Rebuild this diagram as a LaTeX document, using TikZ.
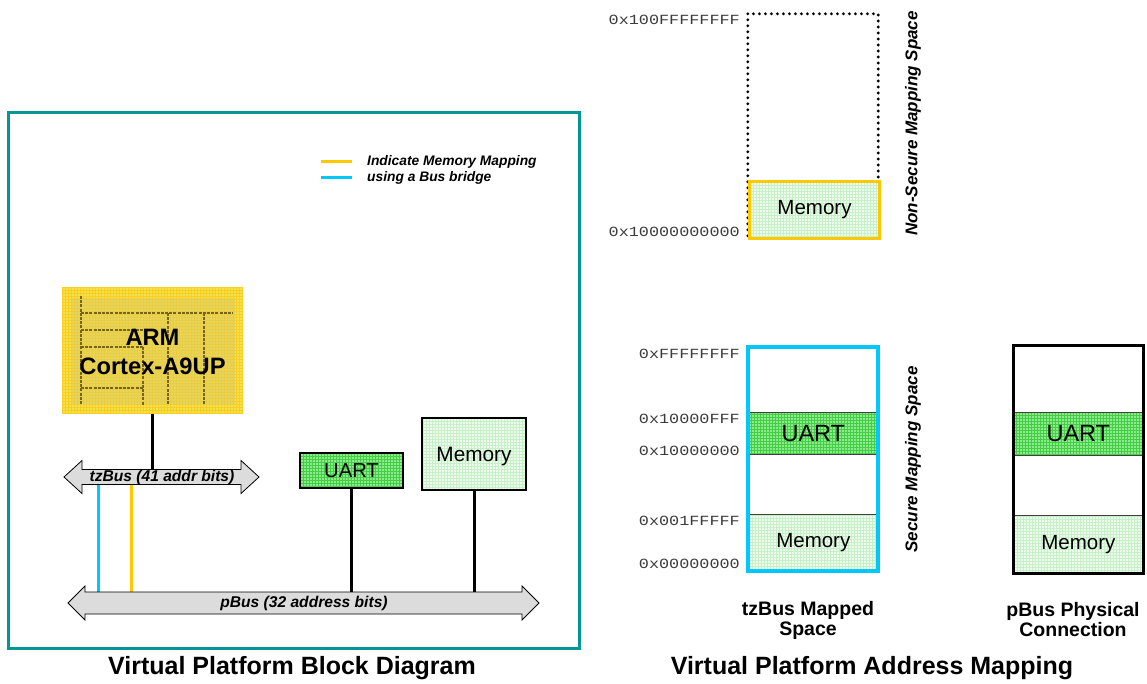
\documentclass[tikz,border=0pt]{standalone}
\usepackage{fontspec}
\usepackage{graphicx}
\setmainfont{Liberation Sans}
\newfontfamily\monof{Liberation Mono}
\usetikzlibrary{backgrounds,calc}
\definecolor{tealframe}{RGB}{0,150,150}
\definecolor{ylw}{RGB}{255,200,0}
\definecolor{cyn}{RGB}{0,200,250}
\definecolor{armfill}{RGB}{242,226,80}
\definecolor{armgrid}{RGB}{250,205,30}
\definecolor{arminner}{RGB}{222,205,95}
\definecolor{armdash}{RGB}{120,100,25}
\definecolor{grnfill}{RGB}{140,235,140}
\definecolor{grngrid}{RGB}{70,205,70}
\definecolor{lgfill}{RGB}{238,252,238}
\definecolor{lggrid}{RGB}{200,240,200}
\definecolor{busgray}{RGB}{220,220,220}
\definecolor{hexgray}{RGB}{60,60,60}
\newcommand\hx[1]{\scalebox{1.2}[1]{#1}}
\newcommand\mybus[6]{%
  \draw[busshape] (#1,#3) -- (#1+#6,#3-#5) -- (#1+#6,#3-#4) -- (#2-#6,#3-#4)
   -- (#2-#6,#3-#5) -- (#2,#3) -- (#2-#6,#3+#5) -- (#2-#6,#3+#4)
   -- (#1+#6,#3+#4) -- (#1+#6,#3+#5) -- cycle;}
\tikzset{
  gridfill/.style 2 args={fill=#1, path picture={\draw[#2, line width=0.4pt, step=3pt]
     (path picture bounding box.south west) grid (path picture bounding box.north east);}},
  blk/.style={draw=black, line width=1.2pt, inner sep=0pt},
  conn/.style={draw=black, line width=3pt},
  cline/.style={draw=cyn, line width=3pt},
  yline/.style={draw=ylw, line width=3pt},
  busshape/.style={draw=black, fill=busgray, line width=0.8pt},
  buslabel/.style={font=\bfseries\itshape\fontsize{15.6}{15.6}\selectfont, inner sep=0pt},
  hex/.style={anchor=east, text=hexgray, font=\monof\fontsize{14}{14}\selectfont, inner sep=0pt},
  vlabel/.style={rotate=90, font=\bfseries\itshape\fontsize{17}{17}\selectfont, inner sep=0pt},
  title/.style={font=\bfseries\fontsize{25}{25}\selectfont, inner sep=0pt},
  subtitle/.style={font=\bfseries\fontsize{19.5}{20}\selectfont, align=center, inner sep=0pt},
  legtext/.style={anchor=west, font=\bfseries\itshape\fontsize{13.8}{13.8}\selectfont, inner sep=0pt},
  region/.style={draw=black!75, line width=0.6pt, minimum width=130pt, anchor=north west, inner sep=0pt},
  memtxt/.style={font=\fontsize{20.5}{20.5}\selectfont},
  uarttxt/.style={font=\fontsize{23.5}{23.5}\selectfont},
}
\begin{document}
\begin{tikzpicture}[x=1pt,y=-1pt]
\useasboundingbox (0,0) rectangle (1147,684);
\begin{scope}[on background layer]
\fill[white] (0,0) rectangle (1147,684);
\end{scope}

% frame
\node[draw=tealframe, line width=3pt, minimum width=571pt, minimum height=535pt, inner sep=0pt] (frame) at (293.5,380.5) {};

% legend
\coordinate (ly1) at (321,162); \coordinate (ly2) at (352,162);
\coordinate (lc1) at (321,178); \coordinate (lc2) at (352,178);
\draw[yline] (ly1) -- (ly2);
\draw[cline] (lc1) -- (lc2);
\node[legtext] (leg1) at (367,162) {Indicate Memory Mapping};
\node[legtext] (leg2) at (367,178) {using a Bus bridge};

% ARM box
\node[gridfill={armfill}{armgrid}, inner sep=0pt, minimum width=181pt, minimum height=126pt] (arm) at (152.5,350) {};
\fill[arminner, opacity=0.6] (72,298) rectangle (235,405);
\begin{scope}[draw=armdash, line width=1.6pt, dash pattern=on 3pt off 1.2pt]
  \draw (81,296) -- (81,405);
  \draw (81,313) -- (233,313);
  \draw (81,330) -- (150,330);
  \draw (81,347) -- (143,347);
  \draw (81,388) -- (143,388);
  \draw (143,347) -- (143,405);
  \draw (168,313) -- (168,405);
  \draw (204,313) -- (204,405);
\end{scope}
\node[font=\bfseries\fontsize{23.7}{29}\selectfont, align=center, inner sep=0pt] (armtext) at (152.5,351.5) {ARM\\Cortex-A9UP};

% UART and Memory
\node[blk, gridfill={grnfill}{grngrid}, minimum width=103pt, minimum height=35pt, font=\fontsize{20.2}{20.2}\selectfont] (uart) at (351.5,470.5) {UART};
\node[blk, gridfill={lgfill}{lggrid}, minimum width=104pt, minimum height=72pt] (mem) at (474,454) {};
\node[font=\fontsize{20.8}{20.8}\selectfont, inner sep=0pt] (memtext) at (474,456) {Memory};

% buses
\mybus{64}{259}{477}{7.5}{16.5}{18}
\node[buslabel] (tzbus) at (162,477) {tzBus (41 addr bits)};
\mybus{68}{539}{603}{11}{17}{17}
\node[buslabel] (pbus) at (304,603) {pBus (32 address bits)};

\coordinate (bc) at (98,484);
\coordinate (yc) at (131,484);
\begin{scope}[on background layer]
  \draw[conn] (arm.south) -- (arm.south |- tzbus);
  \draw[cline] (bc) -- (bc |- pbus);
  \draw[yline] (yc) -- (yc |- pbus);
  \draw[conn] (uart.south) -- (uart.south |- pbus);
  \draw[conn] (mem.south) -- (mem.south |- pbus);
\end{scope}

% titles
\node[title] (t1) at (292,668) {Virtual Platform Block Diagram};
\node[title] (t2) at (872,668) {Virtual Platform Address Mapping};

% Non-secure space
\node[inner sep=0pt, minimum width=130pt, minimum height=223pt] (ns) at (813,125.5) {};
\draw[black, line width=3.2pt, line cap=round, dash pattern=on 0pt off 6pt] (ns.north west) rectangle (ns.south east);
\node[region, draw=ylw, line width=3pt, minimum height=57pt, gridfill={lgfill}{lggrid}, memtxt] (nsmem) at (748,180) {Memory};
\node[hex] (h1) at (740,20) {\hx{0x100FFFFFFFF}};
\node[hex] (h2) at (740,232) {\hx{0x10000000000}};
\node[vlabel] (nsl) at (913,123.5) {Non-Secure Mapping Space};

% Secure space (tzBus)
\node[region, minimum height=42pt, gridfill={grnfill}{grngrid}, uarttxt] (suart) at (748,412) {UART};
\node[region, minimum height=57pt, gridfill={lgfill}{lggrid}, memtxt] (smem) at (748,514) {Memory};
\node[draw=cyn, line width=4pt, minimum width=130pt, minimum height=224pt, inner sep=0pt] (sec) at (813,459) {};
\node[hex] (h3) at (740,354) {\hx{0xFFFFFFFF}};
\node[hex] (h4) at (740,419) {\hx{0x10000FFF}};
\node[hex] (h5) at (740,451) {\hx{0x10000000}};
\node[hex] (h6) at (740,521) {\hx{0x001FFFFF}};
\node[hex] (h7) at (740,564) {\hx{0x00000000}};
\node[vlabel] (sl) at (913,459.5) {Secure Mapping Space};
\node[subtitle] (st1) at (808,620) {tzBus Mapped\\Space};

% pBus physical
\node[region, minimum height=43pt, gridfill={grnfill}{grngrid}, uarttxt] (puart) at (1013,412) {UART};
\node[region, minimum height=58pt, gridfill={lgfill}{lggrid}, memtxt] (pmem) at (1013,515) {Memory};
\node[draw=black, line width=3pt, minimum width=130pt, minimum height=228pt, inner sep=0pt] (pb) at (1078,459) {};
\node[subtitle] (st2) at (1073,620) {pBus Physical\\Connection};
\end{tikzpicture}
\end{document}
